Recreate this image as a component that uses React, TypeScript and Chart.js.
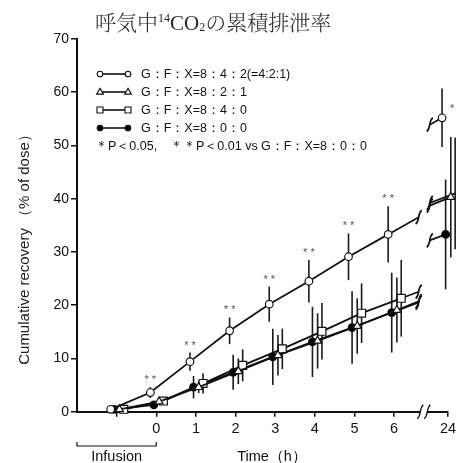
import { useEffect, useRef } from "react";
import { Chart, registerables } from "chart.js";

Chart.register(...registerables);

// ---------- data ----------
const TIMES = [-1, 0, 1, 2, 3, 4, 5, 6];
const LATE_TIME_LABEL = "24";

const LABEL_OPEN = "G：F：X=8：4：2(=4:2:1)";
const LABEL_TRI = "G：F：X=8：2：1";
const LABEL_SQ = "G：F：X=8：4：0";
const LABEL_FILLED = "G：F：X=8：0：0";

const OPEN_MEAN = [0.45, 3.6, 9.4, 15.2, 20.2, 24.5, 29.1, 33.3];
const OPEN_SD = [0.2, 1.0, 1.7, 2.5, 3.3, 4.0, 4.4, 5.3];
const OPEN_24 = 55.2;
const OPEN_SD_24 = 5.5;

const TRI_MEAN = [0.45, 1.9, 4.6, 7.6, 10.6, 13.3, 16.1, 19.1];
const TRI_SD = [0.15, 0.5, 1.1, 2.4, 3.8, 5.2, 5.2, 6.1];
const TRI_24 = 40.3;
const TRI_SD_24 = 11.3;

const SQ_MEAN = [0.45, 2.0, 5.3, 8.7, 11.8, 15.1, 18.5, 21.3];
const SQ_SD = [0.15, 0.5, 1.9, 3.0, 3.8, 5.3, 5.6, 7.2];
const SQ_24 = 41.0;
const SQ_SD_24 = 10.5;

const FILLED_MEAN = [0.45, 1.3, 4.6, 7.4, 10.3, 13.1, 15.8, 18.6];
const FILLED_SD = [0.15, 0.4, 2.1, 3.3, 5.3, 6.6, 6.8, 7.5];
const FILLED_24 = 33.3;
const FILLED_SD_24 = 10.3;

// significance marks for the open-circle group vs G:F:X=8:0:0
const OPEN_SIG = ["", "**", "**", "**", "**", "**", "**", "**"];
const OPEN_SIG_24 = "*";

const TITLE_PARTS = ["呼気中", "14", "CO", "2", "の累積排泄率"];
const Y_TITLE = "Cumulative recovery （% of dose）";
const X_TITLE = "Time（h）";
const INFUSION_LABEL = "Infusion";
const NOTE_1 = "＊P＜0.05,";
const NOTE_2 = "＊＊P＜0.01 vs G：F：X=8：0：0";

// ---------- layout constants ----------
const W = 456;
const H = 463;
const X_MIN = -2;
const POS_24 = 7.36; // position of the "24" tick after the axis break
const BREAK_POS = 6.6;
const JITTER = { open: -0.15, tri: 0.07, sq: 0.18, filled: -0.06 };
const SANS = "'Liberation Sans', Arial, sans-serif";
const CJK = "'Noto Serif CJK JP', 'Noto Sans CJK JP', serif";

type Series = {
  key: string;
  label: string;
  mean: number[];
  sd: number[];
  late: number;
  lateSd: number;
  jitter: number;
  style: "circle" | "triangle" | "rect";
  fill: string;
  radius: number;
};

const SERIES: Series[] = [
  { key: "open", label: LABEL_OPEN, mean: OPEN_MEAN, sd: OPEN_SD, late: OPEN_24, lateSd: OPEN_SD_24, jitter: JITTER.open, style: "circle", fill: "#fff", radius: 3.8 },
  { key: "tri", label: LABEL_TRI, mean: TRI_MEAN, sd: TRI_SD, late: TRI_24, lateSd: TRI_SD_24, jitter: JITTER.tri, style: "triangle", fill: "#fff", radius: 4.6 },
  { key: "sq", label: LABEL_SQ, mean: SQ_MEAN, sd: SQ_SD, late: SQ_24, lateSd: SQ_SD_24, jitter: JITTER.sq, style: "rect", fill: "#fff", radius: 5.6 },
  { key: "filled", label: LABEL_FILLED, mean: FILLED_MEAN, sd: FILLED_SD, late: FILLED_24, lateSd: FILLED_SD_24, jitter: JITTER.filled, style: "circle", fill: "#000", radius: 3.8 },
];

function seriesPoints(s: Series) {
  return TIMES.map((t, i) => ({ x: t + s.jitter, y: s.mean[i], sd: s.sd[i] })).concat([
    { x: POS_24 + s.jitter, y: s.late, sd: s.lateSd },
  ]);
}

function tilde(ctx: CanvasRenderingContext2D, x: number, y: number) {
  ctx.beginPath();
  ctx.moveTo(x - 3, y + 7);
  ctx.bezierCurveTo(x + 1.5, y + 3, x - 1.5, y - 3, x + 3, y - 7);
  ctx.stroke();
}

const errorBars = {
  id: "errorBars",
  beforeDatasetsDraw(chart: any) {
    const { ctx, scales } = chart;
    const x = scales.x;
    const y = scales.y;
    ctx.save();
    ctx.strokeStyle = "#1a1a1a";
    ctx.lineWidth = 1.6;
    SERIES.forEach((s) => {
      seriesPoints(s).forEach((p) => {
        const px = x.getPixelForValue(p.x);
        ctx.beginPath();
        ctx.moveTo(px, y.getPixelForValue(p.y - p.sd));
        ctx.lineTo(px, y.getPixelForValue(p.y + p.sd));
        ctx.stroke();
      });
    });
    // break stubs
    ctx.strokeStyle = "#111";
    ctx.lineWidth = 1.7;
    SERIES.forEach((s) => {
      const n = TIMES.length;
      const x5 = x.getPixelForValue(TIMES[n - 2] + s.jitter);
      const x6 = x.getPixelForValue(TIMES[n - 1] + s.jitter);
      const y5 = y.getPixelForValue(s.mean[n - 2]);
      const y6 = y.getPixelForValue(s.mean[n - 1]);
      const slope = (y6 - y5) / (x6 - x5);
      const xe = x.getPixelForValue(BREAK_POS + 0.02);
      const ye = y6 + slope * (xe - x6);
      ctx.beginPath();
      ctx.moveTo(x6, y6);
      ctx.lineTo(xe, ye);
      ctx.stroke();
      tilde(ctx, xe, ye);
      const xl = x.getPixelForValue(POS_24 + s.jitter);
      const yl = y.getPixelForValue(s.late);
      const xs = x.getPixelForValue(6.9);
      const ys = yl - slope * (xl - xs);
      ctx.beginPath();
      ctx.moveTo(xs, ys);
      ctx.lineTo(xl, yl);
      ctx.stroke();
      tilde(ctx, xs, ys);
    });
    ctx.restore();
  },
};

function drawMarker(ctx: CanvasRenderingContext2D, style: string, x: number, y: number, r: number, fill: string) {
  ctx.beginPath();
  if (style === "circle") {
    ctx.arc(x, y, r, 0, Math.PI * 2);
  } else if (style === "triangle") {
    ctx.moveTo(x, y - r);
    ctx.lineTo(x + r * 0.95, y + r * 0.6);
    ctx.lineTo(x - r * 0.95, y + r * 0.6);
    ctx.closePath();
  } else {
    ctx.rect(x - r, y - r, 2 * r, 2 * r);
  }
  ctx.fillStyle = fill;
  ctx.fill();
  ctx.stroke();
}

const decorations = {
  id: "decorations",
  afterDraw(chart: any) {
    const { ctx, scales } = chart;
    const x = scales.x;
    const y = scales.y;
    const area = chart.chartArea;
    ctx.save();

    // title
    let tx = 95;
    const base = 30;
    ctx.fillStyle = "#2a2a2a";
    ctx.textBaseline = "alphabetic";
    ctx.textAlign = "left";
    const big = `300 21px ${CJK}`;
    const small = `12px 'Liberation Serif', serif`;
    const serif = `21px 'Liberation Serif', serif`;
    const parts: [string, string, number][] = [
      [TITLE_PARTS[0], big, 0],
      [TITLE_PARTS[1], small, -8],
      [TITLE_PARTS[2], serif, 0],
      [TITLE_PARTS[3], small, 1],
      [TITLE_PARTS[4], big, 0],
    ];
    parts.forEach(([t, f, dy]) => {
      ctx.font = f;
      ctx.fillText(t, tx, base + dy);
      tx += ctx.measureText(t).width;
    });

    // legend
    ctx.strokeStyle = "#111";
    SERIES.forEach((s, row) => {
      const ly = 74 + 18 * row;
      ctx.lineWidth = 1.6;
      ctx.beginPath();
      ctx.moveTo(100, ly);
      ctx.lineTo(128, ly);
      ctx.stroke();
      ctx.lineWidth = 1.1;
      const r = s.style === "rect" ? 3 : s.style === "triangle" ? 3.6 : 2.8;
      drawMarker(ctx, s.style, 100, ly, r, s.fill);
      drawMarker(ctx, s.style, 128, ly, r, s.fill);
      ctx.fillStyle = "#111";
      ctx.font = `12.5px ${SANS}`;
      ctx.textBaseline = "middle";
      ctx.fillText(s.label, 141, ly + 0.5);
    });
    ctx.font = `12.5px ${SANS}`;
    ctx.fillText(NOTE_1, 95, 146.5);
    ctx.fillText(NOTE_2, 170, 146.5);

    // significance marks
    ctx.fillStyle = "#555";
    ctx.font = `11px ${SANS}`;
    ctx.textAlign = "center";
    const open = SERIES[0];
    TIMES.forEach((t, i) => {
      if (!OPEN_SIG[i]) return;
      const px = x.getPixelForValue(t + open.jitter);
      const py = y.getPixelForValue(open.mean[i] + open.sd[i]) - 10;
      ctx.fillText(OPEN_SIG[i].split("").join(" "), px, py + 3);
    });
    {
      const px = x.getPixelForValue(POS_24 + open.jitter);
      const py = y.getPixelForValue(open.late) - 12;
      ctx.fillText(OPEN_SIG_24, px + 10, py + 3);
    }

    // x axis break
    const bx = (x.getPixelForValue(BREAK_POS) + x.getPixelForValue(6.9)) / 2;
    const by = area.bottom;
    ctx.fillStyle = "#fff";
    ctx.fillRect(bx - 3, by - 3, 6, 6);
    ctx.strokeStyle = "#111";
    ctx.lineWidth = 1.3;
    tilde(ctx, bx - 3.5, by);
    tilde(ctx, bx + 3.5, by);

    // infusion bracket
    const i0 = x.getPixelForValue(X_MIN);
    const i1 = x.getPixelForValue(0);
    ctx.lineWidth = 1.2;
    ctx.beginPath();
    ctx.moveTo(i0, 442);
    ctx.lineTo(i0, 446);
    ctx.lineTo(i1, 446);
    ctx.lineTo(i1, 442);
    ctx.stroke();

    ctx.fillStyle = "#111";
    ctx.font = `14.5px ${SANS}`;
    ctx.textAlign = "center";
    ctx.textBaseline = "middle";
    ctx.fillText(INFUSION_LABEL, (i0 + i1) / 2, 457);
    ctx.fillText(X_TITLE, 272, 457);

    // y title
    ctx.save();
    ctx.translate(25, 246);
    ctx.rotate(-Math.PI / 2);
    ctx.font = `15px ${SANS}`;
    ctx.fillStyle = "#222";
    ctx.fillText(Y_TITLE, 0, 0);
    ctx.restore();

    ctx.restore();
  },
};

export default function App() {
  const ref = useRef<HTMLCanvasElement>(null);
  useEffect(() => {
    document.body.style.margin = "0";
    const datasets = SERIES.map((s) => {
      const pts: any[] = TIMES.map((t, i) => ({ x: t + s.jitter, y: s.mean[i] }));
      pts.push({ x: BREAK_POS + 0.1, y: null });
      pts.push({ x: POS_24 + s.jitter, y: s.late });
      return {
        label: s.label,
        data: pts,
        borderColor: "#111",
        borderWidth: 1.8,
        backgroundColor: s.fill,
        pointBackgroundColor: s.fill,
        pointBorderColor: "#111",
        pointBorderWidth: 1.2,
        pointStyle: s.style,
        pointRadius: s.radius,
        spanGaps: false,
        clip: false as any,
        tension: 0,
      };
    });
    const chart = new Chart(ref.current!, {
      type: "line",
      data: { datasets },
      options: {
        responsive: false,
        animation: false,
        layout: { padding: { top: 39, right: 8, left: 0, bottom: 0 } },
        plugins: { legend: { display: false }, tooltip: { enabled: false }, title: { display: false } },
        scales: {
          x: {
            type: "linear",
            min: X_MIN,
            max: POS_24,
            afterBuildTicks: (s: any) => {
              s.ticks = TIMES.map((v) => ({ value: v })).concat([{ value: POS_24 }]);
            },
            afterFit: (s: any) => {
              s.height = 51.3;
              s.paddingRight = 0;
              s.paddingLeft = 0;
            },
            grid: { drawOnChartArea: false, drawTicks: true, tickLength: 5, color: "#111", lineWidth: 1.5 },
            border: { display: true, color: "#111", width: 2 },
            ticks: {
              color: "#111",
              font: { family: SANS, size: 14.5 },
              padding: 4,
              maxRotation: 0,
              autoSkip: false,
              callback: (v: any) => (v === POS_24 ? LATE_TIME_LABEL : v < 0 ? "" : String(v)),
            },
          },
          y: {
            min: 0,
            max: 70,
            afterFit: (s: any) => {
              s.width = 77;
              s.paddingTop = 0;
              s.paddingBottom = 0;
            },
            grid: { drawOnChartArea: false, drawTicks: true, tickLength: 6, color: "#111", lineWidth: 1.5 },
            border: { display: true, color: "#111", width: 2 },
            ticks: { stepSize: 10, color: "#111", font: { family: SANS, size: 14 }, padding: 2 },
          },
        },
      },
      plugins: [errorBars, decorations],
    } as any);
    return () => chart.destroy();
  }, []);
  return (
    <div style={{ width: W, height: H }}>
      <canvas ref={ref} width={W} height={H} style={{ display: "block" }} />
    </div>
  );
}
